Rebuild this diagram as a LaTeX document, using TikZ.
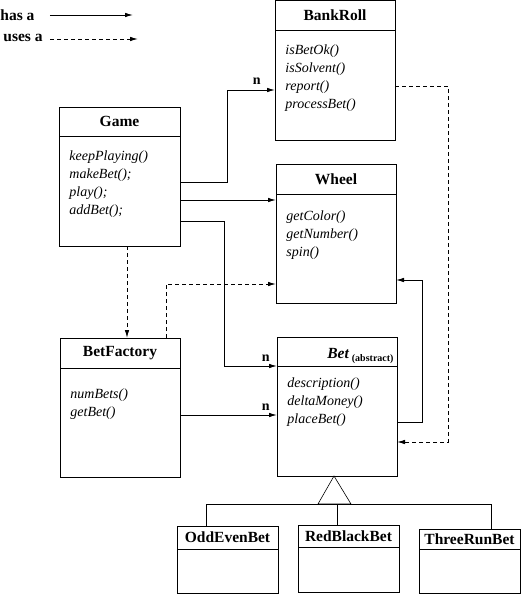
\documentclass[tikz,border=0pt]{standalone}
\usepackage{fontspec}
\setmainfont{Liberation Serif}
\usepackage{tikz}
\usetikzlibrary{arrows.meta,calc}

% class box: [title options]{name}{corner}{width}{height}{header}{ops offset}{title}{methods}
\newcommand{\umlclass}[9][]{%
  \node[classbox, minimum width=#4pt, minimum height=#5pt] (#2) at #3 {};
  \draw ([yshift=-#6pt]#2.north west) -- ([yshift=-#6pt]#2.north east);
  \node[classtitle, #1] (#2title) at ([yshift={-#6pt/2}]#2.north) {#8};
  \node[classops] (#2ops) at ([shift={(10pt,-#6pt-#7pt)}]#2.north west) {#9};
}

\tikzset{
  classbox/.style={draw, rectangle, anchor=north west, inner sep=0pt, outer sep=0pt},
  classtitle/.style={font=\fontsize{15.5}{18}\selectfont\bfseries, inner sep=0pt},
  classops/.style={font=\fontsize{14}{18}\selectfont\itshape, align=left,
    anchor=north west, inner sep=0pt},
  legend/.style={font=\fontsize{15.5}{18}\selectfont\bfseries, inner sep=0pt, anchor=west},
  mult/.style={font=\fontsize{14}{14}\selectfont\bfseries, inner sep=0pt},
  hasarrow/.style={-{Latex[length=8pt,width=4.5pt]}},
  usesarrow/.style={hasarrow, dash pattern=on 4pt off 3pt},
}

\begin{document}
\begin{tikzpicture}[x=1pt,y=-1pt,line width=0.9pt]
  \useasboundingbox (0,0) rectangle (521,594);

  % Legend
  \node[legend] (haslabel) at (0,15) {has a};
  \node[legend] (useslabel) at (3,38) {uses a};
  \coordinate (hasend) at (133,15);
  \coordinate (usesend) at (138,39);
  \draw[hasarrow] ([xshift=15pt]haslabel.east) -- (hasend);
  \draw[usesarrow] ([xshift=7pt]useslabel.east |- usesend) -- (usesend);

  % Classes
  \umlclass{bankroll}{(275,0)}{120}{140}{30}{14.5}{BankRoll}
    {isBetOk()\\isSolvent()\\report()\\processBet()}
  \umlclass{game}{(59,107)}{121}{139}{29}{14.5}{Game}
    {keepPlaying()\\makeBet();\\play();\\addBet();}
  \umlclass{wheel}{(276,164)}{120}{139}{30}{16}{Wheel}
    {getColor()\\getNumber()\\spin()}
  \umlclass{betfactory}{(60,338)}{120}{139}{30}{20}{BetFactory}
    {numBets()\\getBet()}
  \umlclass[anchor=base east, xshift=57pt, yshift=-6.5pt]{bet}{(277,337)}{120}{139}{29}{11}
    {\textit{Bet}\,\raisebox{-3pt}{\fontsize{10}{10}\selectfont (abstract)}}
    {description()\\deltaMoney()\\placeBet()}
  \umlclass{oddevenbet}{(177,526)}{101}{67}{23}{10}{OddEvenBet}{}
  \umlclass{redblackbet}{(298,525)}{101}{67}{22}{10}{RedBlackBet}{}
  \umlclass{threerunbet}{(419,529)}{101}{64}{20}{10}{ThreeRunBet}{}

  % has-a links
  \draw[hasarrow] (game.east |- 0,182) -- (227,182) |- (bankroll.west |- 0,90)
    node[mult, above left, xshift=-14pt, yshift=5pt] (nbank) {n};
  \draw[hasarrow] (game.east |- 0,200) -- (wheel.west |- 0,200);
  \draw[hasarrow] (game.east |- 0,221) -- (224,221) |- (bet.west |- 0,366)
    node[mult, above left, xshift=-7pt, yshift=4pt] (nbet) {n};
  \draw[hasarrow] (betfactory.east |- 0,415) -- (bet.west |- 0,415)
    node[mult, above left, xshift=-7pt, yshift=4pt] (nfactory) {n};
  \draw[hasarrow] (bet.east |- 0,422) -- (422,422) |- (wheel.east |- 0,280);

  % uses-a links
  \draw[usesarrow] (127,0 |- game.south) -- (127,0 |- betfactory.north);
  \draw[usesarrow] (166,0 |- betfactory.north) |- (wheel.west |- 0,284);
  \draw[usesarrow] (bankroll.east |- 0,86) -- (448,86) |- (bet.east |- 0,442);

  % Inheritance
  \coordinate (apex) at (334,0 |- bet.south);
  \draw[line width=0.6pt] (apex) -- (318,504) -- (351,504) -- cycle;
  \draw (206,504) -- (491,504);
  \draw (206,504) -- (206,0 |- oddevenbet.north);
  \draw (337,504) -- (337,0 |- redblackbet.north);
  \draw (491,504) -- (491,0 |- threerunbet.north);
\end{tikzpicture}
\end{document}
